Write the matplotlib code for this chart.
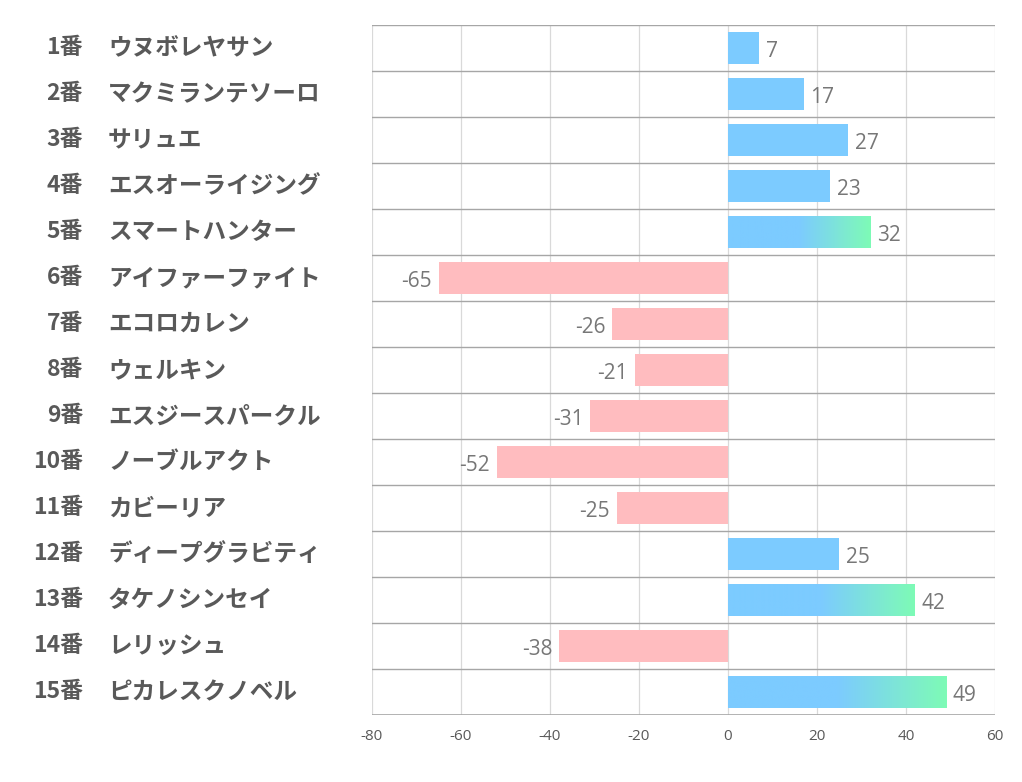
import matplotlib
matplotlib.use('Agg')
import matplotlib.pyplot as plt
import numpy as np
from matplotlib.colors import to_rgb

plt.rcParams['font.family'] = ['Noto Sans CJK JP', 'DejaVu Sans']
plt.rcParams['axes.unicode_minus'] = False

# data
numbers = ['1番', '2番', '3番', '4番', '5番', '6番', '7番', '8番', '9番', '10番',
           '11番', '12番', '13番', '14番', '15番']
names = ['ウヌボレヤサン', 'マクミランテソーロ', 'サリュエ', 'エスオーライジング', 'スマートハンター',
         'アイファーファイト', 'エコロカレン', 'ウェルキン', 'エスジースパークル', 'ノーブルアクト',
         'カビーリア', 'ディープグラビティ', 'タケノシンセイ', 'レリッシュ', 'ピカレスクノベル']
values = [7, 17, 27, 23, 32, -65, -26, -21, -31, -52, -25, 25, 42, -38, 49]

blue = '#7ccbff'
green = '#7efbb6'
pink = '#ffbcbf'

fig = plt.figure(figsize=(10.22, 7.82), dpi=100)
ax = fig.add_axes([372 / 1022, 1 - 715 / 782, (995 - 372) / 1022, (715 - 25) / 782])

n = len(values)
bh = 0.68

for i, v in enumerate(values):
    if v < 0:
        ax.barh(i, v, height=bh, color=pink, zorder=2)
    elif v >= 30:
        # blue for first half, then fade to green
        m = 200
        t = np.linspace(0, 1, m)
        frac = np.clip((t - 0.5) / 0.5, 0, 1)
        c0, c1 = np.array(to_rgb(blue)), np.array(to_rgb(green))
        img = (c0[None, :] * (1 - frac[:, None]) + c1[None, :] * frac[:, None])[None, :, :]
        ax.imshow(img, extent=(0, v, i + bh / 2, i - bh / 2), aspect='auto',
                  interpolation='bilinear', zorder=2)
    else:
        ax.barh(i, v, height=bh, color=blue, zorder=2)
    if v < 0:
        ax.text(v - 1.5, i + 0.08, str(v), ha='right', va='center',
                fontsize=15, color='#777777', family=['Open Sans', 'DejaVu Sans'])
    else:
        ax.text(v + 1.5, i + 0.08, str(v), ha='left', va='center',
                fontsize=15, color='#777777', family=['Open Sans', 'DejaVu Sans'])

ax.set_aspect('auto')
ax.set_xlim(-80, 60)
ax.set_ylim(n - 0.5, -0.5)

# grid
for x in range(-80, 61, 20):
    ax.axvline(x, color='#d9d9d9', lw=0.9, zorder=1)
for k in range(n):
    ax.axhline(k - 0.5, color='#a6a6a6', lw=1.0, zorder=3)
ax.axhline(n - 0.5, color='#a6a6a6', lw=1.2, zorder=3)

for s in ax.spines.values():
    s.set_visible(False)
ax.set_yticks([])
ax.set_xticks(range(-80, 61, 20))
ax.tick_params(axis='x', length=0, labelsize=11, labelcolor='#595959', pad=10)
for lab in ax.get_xticklabels():
    lab.set_family(['Open Sans', 'DejaVu Sans'])

# left labels
for i in range(n):
    y = fig.transFigure.inverted().transform(ax.transData.transform((0, i)))[1]
    fig.text(83 / 1022, y, numbers[i], ha='right', va='center', fontsize=16.5,
             fontweight='bold', color='#595959')
    fig.text(108 / 1022, y, names[i], ha='left', va='center', fontsize=17,
             fontweight='bold', color='#595959')

fig.savefig('out.png', dpi=100)
